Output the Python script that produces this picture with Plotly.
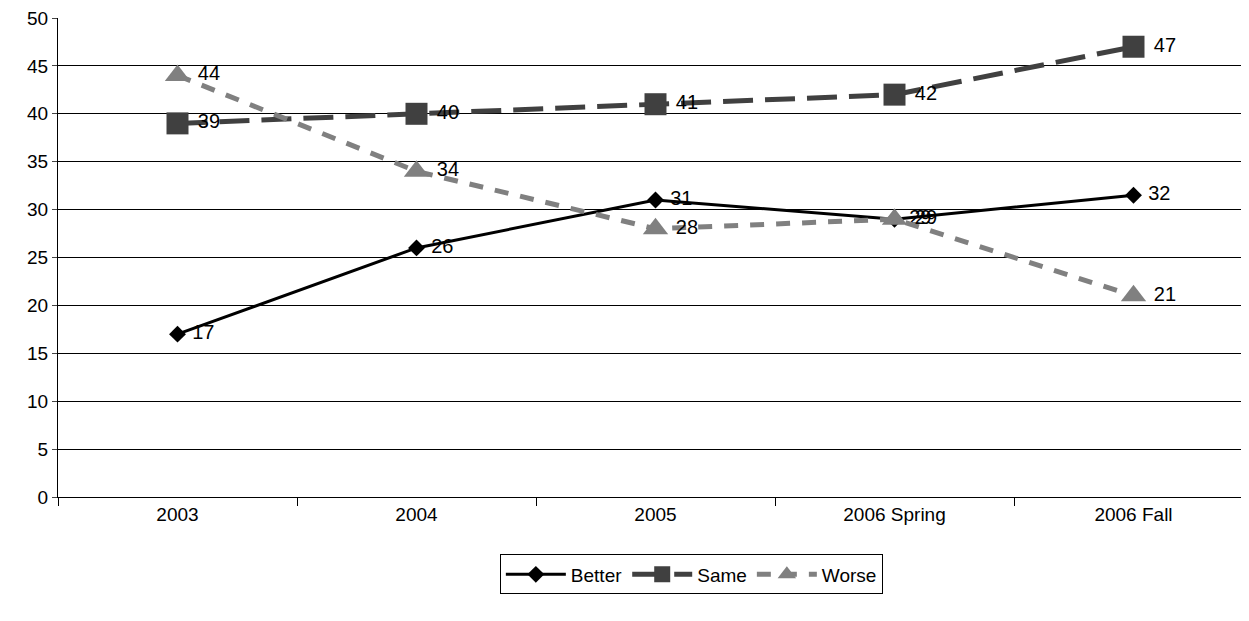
import plotly.graph_objects as go

cats = ["2003", "2004", "2005", "2006 Spring", "2006 Fall"]
better = [17, 26, 31, 29, 31.5]
better_lbl = ["17", "26", "31", "29", "32"]
same = [39, 40, 41, 42, 47]
worse = [44, 34, 28, 29, 21]

def lbl(t):
    return [" " + s for s in t]

fig = go.Figure()
fig.add_trace(go.Scatter(x=cats, y=better, name="Better", mode="lines+markers+text",
    line=dict(color="black", width=3), marker=dict(symbol="diamond", size=13, color="black"),
    text=lbl(better_lbl), textposition="middle right", textfont=dict(size=20, color="black")))
fig.add_trace(go.Scatter(x=cats, y=same, name="Same", mode="lines+markers+text",
    line=dict(color="#404040", width=5, dash="30px,12px"), marker=dict(symbol="square", size=22, color="#404040"),
    text=lbl([str(v) for v in same]), textposition="middle right", textfont=dict(size=20, color="black")))
fig.add_trace(go.Scatter(x=cats, y=worse, name="Worse", mode="lines+markers+text",
    line=dict(color="#808080", width=5, dash="14px,12px"), marker=dict(symbol="triangle-up", size=22, color="#808080"),
    text=lbl([str(v) for v in worse]), textposition="middle right", textfont=dict(size=20, color="black")))

fig.update_layout(width=1249, height=621, plot_bgcolor="white", paper_bgcolor="white",
    margin=dict(l=50, r=4, t=10, b=132),
    font=dict(family="Liberation Sans, Arial", size=19, color="black"),
    legend=dict(orientation="h", x=0.53, xanchor="center", y=-0.12, yanchor="top",
        bordercolor="black", borderwidth=1, font=dict(size=19), itemwidth=60),
    xaxis=dict(type="category", tickson="boundaries", ticks="outside", ticklen=8, tickcolor="black",
        showline=True, linecolor="black", showgrid=False, range=[-0.5, 4.5]),
    yaxis=dict(range=[0, 50], dtick=5, showgrid=True, gridcolor="black", gridwidth=1,
        showline=True, linecolor="black", ticks="outside", ticklen=5, zeroline=False,
        ticklabeloverflow="allow"))
fig.update_yaxes(automargin=False)
fig.update_xaxes(automargin=False)
fig.write_html("out.html")
